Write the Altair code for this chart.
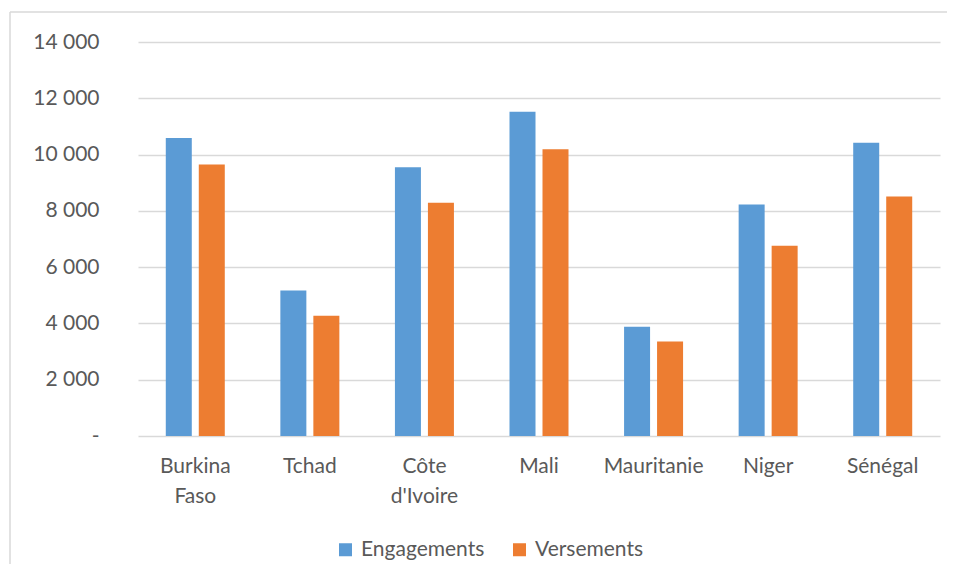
import altair as alt
import pandas as pd

countries = ["Burkina Faso", "Tchad", "Côte d'Ivoire", "Mali", "Mauritanie", "Niger", "Sénégal"]
series_names = ["Engagements", "Versements"]
engagements = [10590, 5170, 9550, 11520, 3880, 8230, 10420]
versements = [9650, 4270, 8290, 10190, 3360, 6760, 8510]
y_ticks = [0, 2000, 4000, 6000, 8000, 10000, 12000, 14000]
colors = ["#5B9BD5", "#ED7D31"]

rows = []
for c, e, v in zip(countries, engagements, versements):
    rows.append({"country": c, "series": series_names[0], "value": e})
    rows.append({"country": c, "series": series_names[1], "value": v})
df = pd.DataFrame(rows)

FONT = "Lato"
TXT = "#595959"

bars = alt.Chart(df).mark_bar().encode(
    x=alt.X(
        "country:N",
        sort=countries,
        scale=alt.Scale(paddingInner=0, paddingOuter=0),
        axis=alt.Axis(
            title=None, labelAngle=0, ticks=False, domain=False,
            labelFont=FONT, labelFontSize=21, labelColor=TXT,
            labelPadding=19, labelLineHeight=30,
            labelExpr="split(datum.label, ' ')",
        ),
    ),
    xOffset=alt.XOffset(
        "series:N", sort=series_names,
        scale=alt.Scale(paddingInner=0.212, paddingOuter=0.842),
    ),
    y=alt.Y(
        "value:Q",
        scale=alt.Scale(domain=[0, 14000]),
        axis=alt.Axis(
            title=None, values=y_ticks, grid=True, gridColor="#D9D9D9", gridWidth=1.5,
            domain=False, ticks=False, labelFont=FONT, labelFontSize=21, labelColor=TXT,
            labelPadding=39,
            labelExpr="datum.value == 0 ? '-' : replace(format(datum.value, ','), ',', ' ')",
        ),
    ),
    color=alt.Color(
        "series:N", sort=series_names,
        scale=alt.Scale(domain=series_names, range=colors),
        legend=alt.Legend(
            title=None, orient="none", legendX=197, legendY=497, direction="horizontal",
            symbolType="square", symbolSize=169, symbolStrokeWidth=0,
            labelFont=FONT, labelFontSize=21, labelColor=TXT,
            labelOffset=5, columnPadding=24, padding=0,
        ),
    ),
)

frame_df = pd.DataFrame({"a": [0]})
frame_top = alt.Chart(frame_df).mark_rule(color="#D9D9D9", strokeWidth=1.5).encode(
    x=alt.value(-128), x2=alt.value(900), y=alt.value(-30)
)
frame_left = alt.Chart(frame_df).mark_rule(color="#D9D9D9", strokeWidth=1.5).encode(
    x=alt.value(-128), y=alt.value(-30), y2=alt.value(620)
)

chart = alt.layer(frame_top, frame_left, bars).properties(
    width=802, height=394,
    autosize=alt.AutoSizeParams(type="none"),
    padding={"left": 130, "top": 34, "right": 7, "bottom": 128},
).configure_view(stroke=None)

chart.save("out.html", embed_options={"renderer": "svg", "actions": False})
